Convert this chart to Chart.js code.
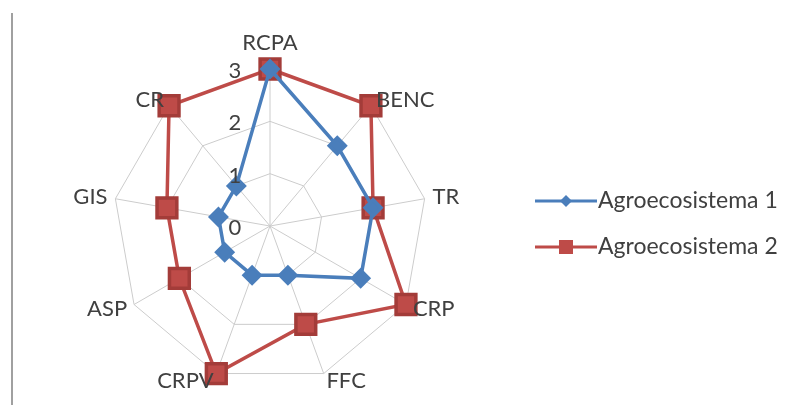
<!DOCTYPE html>
<html>
<head>
<meta charset="utf-8">
<script src="https://cdn.jsdelivr.net/npm/chart.js@4.4.0/dist/chart.umd.min.js"></script>
<style>
  html, body { margin: 0; padding: 0; background: #fff; }
  #wrap { position: relative; width: 790px; height: 405px; }
  #frame { position: absolute; left: 11px; top: 13px; width: 0; height: 392px; border-left: 2px solid #a0a0a0; }
</style>
</head>
<body>
<div id="wrap">
  <canvas id="myChart" width="790" height="405"></canvas>
  <div id="frame"></div>
</div>
<script>
  const labels = ['RCPA', 'BENC', 'TR', 'CRP', 'FFC', 'CRPV', 'ASP', 'GIS', 'CR'];
  const agro1 = [3, 2, 2, 2, 1, 1, 1, 1, 1];
  const agro2 = [3, 3, 2, 3, 2, 3, 2, 2, 3];
  const tickValues = [0, 1, 2, 3];
  const seriesNames = ['Agroecosistema 1', 'Agroecosistema 2'];

  const blue = '#4a7ebb';
  const red = '#be4b48';
  const textColor = '#404040';
  const fontFamily = 'Lato, "Open Sans", sans-serif';

  // tick numbers left of the RCPA axis + category names placed like Excel does
  const labelPlugin = {
    id: 'radarLabels',
    afterDatasetsDraw(chart) {
      const scale = chart.scales.r;
      const ctx = chart.ctx;
      const outer = scale.drawingArea;
      ctx.save();
      ctx.font = '22px ' + fontFamily;
      ctx.fillStyle = textColor;
      ctx.textBaseline = 'middle';
      ctx.textAlign = 'center';
      tickValues.forEach(function(v) {
        const d = scale.getDistanceFromCenterForValue(v);
        ctx.fillText(String(v), scale.xCenter - 35, scale.yCenter - d + 2);
      });
      chart.data.labels.forEach(function(lbl, i) {
        const p0 = scale.getPointPosition(i, outer);
        const dx = p0.x - scale.xCenter;
        const top = Math.abs(dx) < 5 && p0.y < scale.yCenter;
        const p = scale.getPointPosition(i, outer + (top ? 26 : 8));
        if (dx > 5) ctx.textAlign = 'left';
        else if (dx < -5) ctx.textAlign = 'right';
        else ctx.textAlign = 'center';
        ctx.fillText(lbl, p.x, p.y);
      });
      ctx.restore();
    }
  };

  // legend drawn as line + marker like the spreadsheet one
  const legendPlugin = {
    id: 'lineLegend',
    afterDraw(chart) {
      const ctx = chart.ctx;
      const x0 = 535, x1 = 597, tx = 598;
      const rows = [201, 247];
      ctx.save();
      chart.data.datasets.forEach(function(ds, i) {
        const y = rows[i];
        ctx.strokeStyle = ds.borderColor;
        ctx.lineWidth = 3;
        ctx.beginPath();
        ctx.moveTo(x0, y);
        ctx.lineTo(x1, y);
        ctx.stroke();
        ctx.fillStyle = ds.pointBackgroundColor;
        const mx = 566;
        if (ds.pointStyle === 'rectRot') {
          ctx.beginPath();
          ctx.moveTo(mx, y - 6);
          ctx.lineTo(mx + 6, y);
          ctx.lineTo(mx, y + 6);
          ctx.lineTo(mx - 6, y);
          ctx.closePath();
          ctx.fill();
        } else {
          ctx.fillRect(mx - 7, y - 7, 14, 14);
        }
        ctx.font = '23px ' + fontFamily;
        ctx.fillStyle = textColor;
        ctx.textAlign = 'left';
        ctx.textBaseline = 'middle';
        ctx.fillText(ds.label, tx, y);
      });
      ctx.restore();
    }
  };

  const myChart = new Chart('myChart', {
    type: 'radar',
    data: {
      labels: labels,
      datasets: [{
        label: seriesNames[0],
        data: agro1,
        borderColor: blue,
        backgroundColor: 'rgba(0,0,0,0)',
        borderWidth: 3.5,
        pointStyle: 'rectRot',
        pointRadius: 8,
        pointBackgroundColor: blue,
        pointBorderColor: blue,
        fill: false
      }, {
        label: seriesNames[1],
        data: agro2,
        borderColor: red,
        backgroundColor: 'rgba(0,0,0,0)',
        borderWidth: 3.5,
        pointStyle: 'rect',
        pointRadius: 14,
        pointBackgroundColor: red,
        pointBorderColor: '#a33c39',
        fill: false
      }]
    },
    options: {
      responsive: false,
      animation: false,
      layout: {
        padding: { left: 113, right: 363, top: 69, bottom: 22 }
      },
      elements: { line: { tension: 0 } },
      scales: {
        r: {
          min: 0,
          max: 3,
          ticks: { stepSize: 1, display: false },
          grid: { color: '#cccccc', lineWidth: 1, circular: false },
          angleLines: { color: '#cccccc', lineWidth: 1 },
          pointLabels: { display: false }
        }
      },
      plugins: {
        legend: { display: false },
        tooltip: { enabled: false }
      }
    },
    plugins: [labelPlugin, legendPlugin]
  });
</script>
</body>
</html>
